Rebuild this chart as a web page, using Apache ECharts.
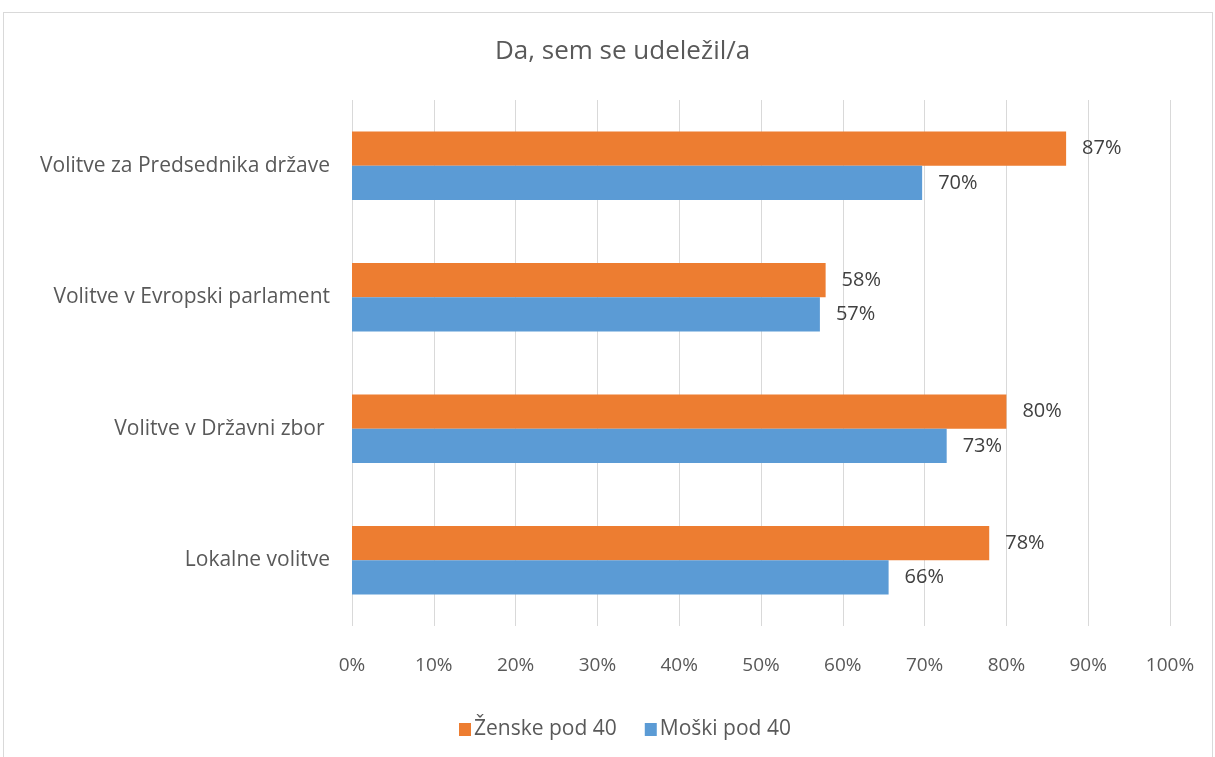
<!DOCTYPE html>
<html><head><meta charset="utf-8">
<script src="https://cdn.jsdelivr.net/npm/echarts@6/dist/echarts.min.js"></script>
<style>html,body{margin:0;padding:0;background:#fff}#c{width:1215px;height:757px}
#frame{position:absolute;left:3px;top:12px;width:1210px;height:760px;border:1px solid #d9d9d9;box-sizing:border-box;pointer-events:none}</style>
</head><body><div id="c"></div><div id="frame"></div>
<script>
var categories = ['Volitve za Predsednika države', 'Volitve v Evropski parlament', 'Volitve v Državni zbor ', 'Lokalne volitve'];
var zenske = [87.3, 57.9, 80.0, 77.9];
var moski = [69.7, 57.2, 72.7, 65.6];
var seriesNames = ['Ženske pod 40', 'Moški pod 40'];
var chart = echarts.init(document.getElementById('c'));
var font = 'Open Sans';
var lbl = {show:true, position:'right', distance:16, color:'#404040', fontSize:20, fontFamily:font,
  formatter:function(p){return Math.round(p.value)+'%';}};
chart.setOption({
  animation:false,
  title:{text:'Da, sem se udeležil/a', left:490, top:34, textStyle:{color:'#595959', fontSize:26, fontWeight:'normal', fontFamily:font}},
  legend:{data:seriesNames, bottom:12, left:454, itemWidth:12, itemHeight:13, itemGap:28, icon:'rect',
    textStyle:{color:'#595959', fontSize:21, fontFamily:font, padding:[0,0,0,-2]}},
  grid:{left:352, right:45, top:100, bottom:131, containLabel:false},
  xAxis:{type:'value', min:0, max:100, interval:10,
    axisLabel:{formatter:'{value}%', color:'#595959', fontSize:19, fontFamily:font, margin:30},
    splitLine:{lineStyle:{color:'#d9d9d9'}}, axisLine:{show:false}, axisTick:{show:false}},
  yAxis:{type:'category', data:categories, inverse:true,
    axisLabel:{color:'#595959', fontSize:21, fontFamily:font, margin:22},
    axisLine:{show:false}, axisTick:{show:false}},
  series:[
    {name:seriesNames[0], type:'bar', data:zenske, itemStyle:{color:'#ED7D31'}, barGap:'0%', barCategoryGap:'48%', label:lbl},
    {name:seriesNames[1], type:'bar', data:moski, itemStyle:{color:'#5B9BD5'}, barGap:'0%', barCategoryGap:'48%', label:lbl}
  ]
});
</script></body></html>
